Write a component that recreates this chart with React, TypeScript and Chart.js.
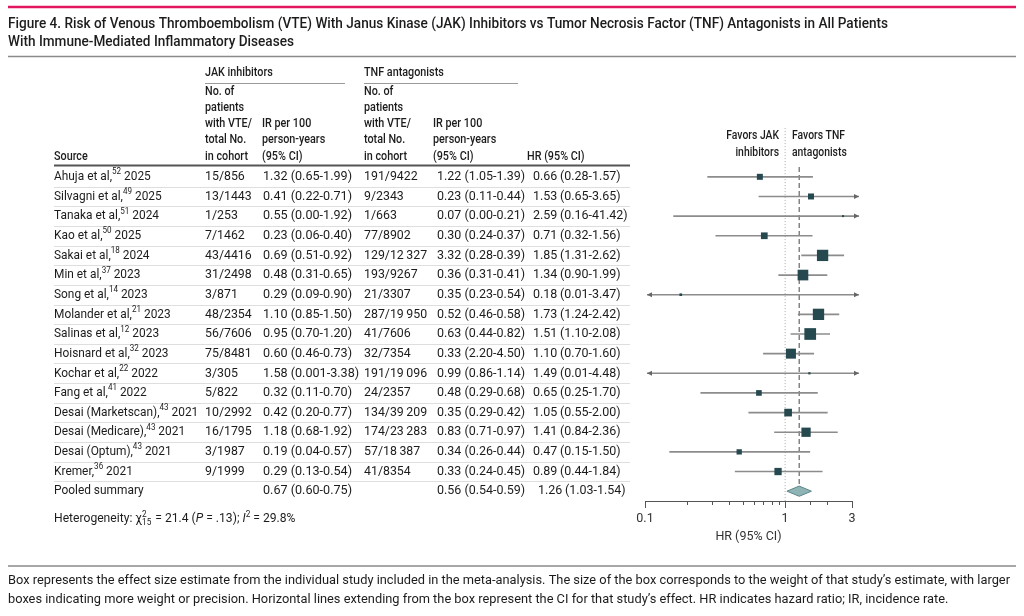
import React, { useEffect, useRef } from 'react';
import { Chart, registerables } from 'chart.js';

Chart.register(...registerables);

// ---------------- DATA ----------------
const studySources = [
  'Ahuja et al,', 'Silvagni et al,', 'Tanaka et al,', 'Kao et al,', 'Sakai et al,', 'Min et al,',
  'Song et al,', 'Molander et al,', 'Salinas et al,', 'Hoisnard et al,', 'Kochar et al,', 'Fang et al,',
  'Desai (Marketscan),', 'Desai (Medicare),', 'Desai (Optum),', 'Kremer,',
];
const studyRefs = ['52', '49', '51', '50', '18', '37', '14', '21', '12', '32', '22', '41', '43', '43', '43', '36'];
const studyYears = ['2025', '2025', '2024', '2025', '2024', '2023', '2023', '2023', '2023', '2023', '2022', '2022', '2021', '2021', '2021', '2021'];
const jakCounts = ['15/856', '13/1443', '1/253', '7/1462', '43/4416', '31/2498', '3/871', '48/2354', '56/7606', '75/8481', '3/305', '5/822', '10/2992', '16/1795', '3/1987', '9/1999'];
const jakIR = [
  '1.32 (0.65-1.99)', '0.41 (0.22-0.71)', '0.55 (0.00-1.92)', '0.23 (0.06-0.40)', '0.69 (0.51-0.92)', '0.48 (0.31-0.65)',
  '0.29 (0.09-0.90)', '1.10 (0.85-1.50)', '0.95 (0.70-1.20)', '0.60 (0.46-0.73)', '1.58 (0.001-3.38)', '0.32 (0.11-0.70)',
  '0.42 (0.20-0.77)', '1.18 (0.68-1.92)', '0.19 (0.04-0.57)', '0.29 (0.13-0.54)',
];
const tnfCounts = [
  '191/9422', '9/2343', '1/663', '77/8902', '129/12\u2009327', '193/9267', '21/3307', '287/19\u2009950', '41/7606', '32/7354',
  '191/19\u2009096', '24/2357', '134/39\u2009209', '174/23\u2009283', '57/18\u2009387', '41/8354',
];
const tnfIR = [
  '1.22 (1.05-1.39)', '0.23 (0.11-0.44)', '0.07 (0.00-0.21)', '0.30 (0.24-0.37)', '3.32 (0.28-0.39)', '0.36 (0.31-0.41)',
  '0.35 (0.23-0.54)', '0.52 (0.46-0.58)', '0.63 (0.44-0.82)', '0.33 (2.20-4.50)', '0.99 (0.86-1.14)', '0.48 (0.29-0.68)',
  '0.35 (0.29-0.42)', '0.83 (0.71-0.97)', '0.34 (0.26-0.44)', '0.33 (0.24-0.45)',
];
const hrPoint = [0.66, 1.53, 2.59, 0.71, 1.85, 1.34, 0.18, 1.73, 1.51, 1.10, 1.49, 0.65, 1.05, 1.41, 0.47, 0.89];
const hrLower = [0.28, 0.65, 0.16, 0.32, 1.31, 0.90, 0.01, 1.24, 1.10, 0.70, 0.01, 0.25, 0.55, 0.84, 0.15, 0.44];
const hrUpper = [1.57, 3.65, 41.42, 1.56, 2.62, 1.99, 3.47, 2.42, 2.08, 1.60, 4.48, 1.70, 2.00, 2.36, 1.50, 1.84];
const studyWeights = [3.6, 3.6, 0.4, 4.5, 12.8, 11.4, 0.7, 12.8, 13.7, 10.0, 0.5, 3.2, 5.9, 8.6, 2.8, 5.3];

const pooledLabel = 'Pooled summary';
const pooledJakIR = '0.67 (0.60-0.75)';
const pooledTnfIR = '0.56 (0.54-0.59)';
const pooledHR = 1.26;
const pooledLower = 1.03;
const pooledUpper = 1.54;

const axisMin = 0.1;
const axisMax = 3;
const axisTickLabels = [0.1, 1, 3];
const axisTitle = 'HR (95% CI)';

const titleLines = [
  'Figure 4. Risk of Venous Thromboembolism (VTE) With Janus Kinase (JAK) Inhibitors vs Tumor Necrosis Factor (TNF) Antagonists in All Patients',
  'With Immune-Mediated Inflammatory Diseases',
];
const footnoteLines = [
  'Box represents the effect size estimate from the individual study included in the meta-analysis. The size of the box corresponds to the weight of that study\u2019s estimate, with larger',
  'boxes indicating more weight or precision. Horizontal lines extending from the box represent the CI for that study\u2019s effect. HR indicates hazard ratio; IR, incidence rate.',
];
const countHeader = ['No. of', 'patients', 'with VTE/', 'total No.', 'in cohort'];
const irHeader = ['IR per 100', 'person-years', '(95% CI)'];

// ---------------- HELPERS ----------------
const SANS = 'Roboto, "Noto Sans", "DejaVu Sans", sans-serif';
const fnt = (size: number, weight = 400, style = 'normal') => `${style} ${weight} ${size}px ${SANS}`;
const TEXT = '#1c1c1c';
const ROW_SIZE = 13;
const NARROW = 0.915;

type Part = { t?: string; sup?: boolean; it?: boolean; supsub?: [string, string] };

function drawRich(ctx: CanvasRenderingContext2D, parts: Part[], x: number, y: number, size: number, sx = 1, weight = 400) {
  ctx.save();
  ctx.translate(x, y);
  ctx.scale(sx, 1);
  let cx = 0;
  ctx.textAlign = 'left';
  ctx.textBaseline = 'middle';
  for (const p of parts) {
    if (p.supsub) {
      ctx.font = fnt(size * 0.68, weight);
      const w1 = ctx.measureText(p.supsub[0]).width;
      const w2 = ctx.measureText(p.supsub[1]).width;
      ctx.fillText(p.supsub[0], cx, -size * 0.36);
      ctx.fillText(p.supsub[1], cx, size * 0.32);
      cx += Math.max(w1, w2) + 1;
      continue;
    }
    const s = p.sup ? size * 0.68 : size;
    ctx.font = fnt(s, weight, p.it ? 'italic' : 'normal');
    const dy = p.sup ? -size * 0.36 : 0;
    ctx.fillText(p.t || '', cx, dy);
    cx += ctx.measureText(p.t || '').width;
  }
  ctx.restore();
}

function text(ctx: CanvasRenderingContext2D, s: string, x: number, y: number, f: string, align: CanvasTextAlign = 'left', sx = 1) {
  ctx.save();
  ctx.font = f;
  ctx.textAlign = align;
  ctx.textBaseline = 'middle';
  ctx.translate(x, y);
  ctx.scale(sx, 1);
  ctx.fillText(s, 0, 0);
  ctx.restore();
}

function hline(ctx: CanvasRenderingContext2D, x1: number, x2: number, y: number, color: string, w = 1) {
  ctx.save();
  ctx.strokeStyle = color;
  ctx.lineWidth = w;
  ctx.beginPath();
  ctx.moveTo(x1, y);
  ctx.lineTo(x2, y);
  ctx.stroke();
  ctx.restore();
}

const isLabelTick = (v: number) => axisTickLabels.some((t) => Math.abs(t - v) < 1e-9);
const boxSide = (w: number) => Math.sqrt(w * 10);
const fmt = (v: number) => v.toFixed(2);

const forestPlugin = {
  id: 'forestTable',
  beforeDraw(chart: any) {
    const ctx = chart.ctx as CanvasRenderingContext2D;
    ctx.save();
    ctx.fillStyle = '#fff';
    ctx.fillRect(0, 0, chart.width, chart.height);
    ctx.restore();
  },
  afterDraw(chart: any) {
    const ctx = chart.ctx as CanvasRenderingContext2D;
    const xs = chart.scales.x;
    const ys = chart.scales.y;
    ctx.save();
    ctx.fillStyle = TEXT;

    // title block
    hline(ctx, 8, 1016, 7, '#e2165e', 2.5);
    const tf = fnt(15.5, 500);
    ctx.font = tf;
    const tsx = 880 / ctx.measureText(titleLines[0]).width;
    text(ctx, titleLines[0], 8, 24, tf, 'left', tsx);
    text(ctx, titleLines[1], 8, 42, tf, 'left', tsx);
    hline(ctx, 8, 1016, 56.5, '#8a8a8a', 1.5);

    // footnote
    hline(ctx, 8, 1016, 566, '#8a8a8a', 1.5);
    const ff = fnt(13, 400);
    ctx.font = ff;
    const fsx = 1002 / ctx.measureText(footnoteLines[0]).width;
    text(ctx, footnoteLines[0], 8, 581, ff, 'left', fsx);
    text(ctx, footnoteLines[1], 8, 600, ff, 'left', fsx);

    // table header
    const hf = fnt(13, 500);
    const hs = 0.83;
    text(ctx, 'JAK inhibitors', 205, 73, hf, 'left', hs);
    hline(ctx, 205, 345, 83.5, '#9a9a9a', 1);
    text(ctx, 'TNF antagonists', 364, 73, hf, 'left', hs);
    hline(ctx, 364, 518, 83.5, '#9a9a9a', 1);
    const hy = [92, 108, 124, 140, 157];
    countHeader.forEach((s, k) => {
      text(ctx, s, 205, hy[k], hf, 'left', hs);
      text(ctx, s, 364, hy[k], hf, 'left', hs);
    });
    irHeader.forEach((s, k) => {
      text(ctx, s, 262, hy[k + 2], hf, 'left', hs);
      text(ctx, s, 433, hy[k + 2], hf, 'left', hs);
    });
    text(ctx, 'Source', 54, 157, hf, 'left', hs);
    text(ctx, 'HR (95% CI)', 527, 157, hf, 'left', hs);
    hline(ctx, 54, 630, 165.5, '#555', 2);

    // rows
    const rf = fnt(ROW_SIZE, 400);
    const n = studySources.length;
    for (let i = 0; i < n; i++) {
      const y = ys.getPixelForValue(i);
      ctx.fillStyle = TEXT;
      drawRich(ctx, [{ t: studySources[i] }, { t: studyRefs[i], sup: true }, { t: ' ' + studyYears[i] }], 54, y, ROW_SIZE, NARROW);
      text(ctx, jakCounts[i], 205, y, rf, 'left', 0.95);
      text(ctx, jakIR[i], 263, y, rf, 'left', 0.97);
      text(ctx, tnfCounts[i], 364, y, rf, 'left', 0.95);
      text(ctx, tnfIR[i], 437, y, rf, 'left', 0.96);
      text(ctx, `${fmt(hrPoint[i])}\u2009(${fmt(hrLower[i])}-${fmt(hrUpper[i])})`, 533, y, rf, 'left', 0.96);
      hline(ctx, 54, 630, Math.round(ys.getPixelForValue(i + 0.5)) + 0.5, '#dedede', 1);
    }
    const py = ys.getPixelForValue(n);
    ctx.fillStyle = TEXT;
    text(ctx, pooledLabel, 54, py, rf, 'left', NARROW);
    text(ctx, pooledJakIR, 263, py, rf, 'left', 0.97);
    text(ctx, pooledTnfIR, 437, py, rf, 'left', 0.96);
    text(ctx, `${fmt(pooledHR)}\u2009(${fmt(pooledLower)}-${fmt(pooledUpper)})`, 538, py, rf, 'left', 0.96);

    drawRich(
      ctx,
      [
        { t: 'Heterogeneity: \u03C7' },
        { supsub: ['2', '15'] },
        { t: ' = 21.4 (' },
        { t: 'P', it: true },
        { t: ' = .13); ' },
        { t: 'I', it: true },
        { t: '2', sup: true },
        { t: ' = 29.8%' },
      ],
      54,
      519,
      12.5,
      0.97
    );

    // favors labels
    const bf = fnt(12.5, 500);
    text(ctx, 'Favors JAK', 779, 136, bf, 'right', 0.83);
    text(ctx, 'inhibitors', 779, 153, bf, 'right', 0.83);
    text(ctx, 'Favors TNF', 792, 136, bf, 'left', 0.83);
    text(ctx, 'antagonists', 792, 153, bf, 'left', 0.83);

    // arrows for CIs beyond the axis range
    ctx.fillStyle = '#666';
    for (let i = 0; i < n; i++) {
      const y = ys.getPixelForValue(i);
      if (hrLower[i] < axisMin) {
        const tip = xs.left + 2;
        ctx.beginPath();
        ctx.moveTo(tip, y);
        ctx.lineTo(tip + 5, y - 2.5);
        ctx.lineTo(tip + 5, y + 2.5);
        ctx.closePath();
        ctx.fill();
      }
      if (hrUpper[i] > axisMax) {
        const tip = xs.right + 7;
        ctx.beginPath();
        ctx.moveTo(tip, y);
        ctx.lineTo(tip - 5, y - 2.5);
        ctx.lineTo(tip - 5, y + 2.5);
        ctx.closePath();
        ctx.fill();
      }
    }

    // minor ticks
    ctx.strokeStyle = '#555';
    ctx.lineWidth = 1;
    for (const t of xs.ticks) {
      if (isLabelTick(t.value)) continue;
      const x = Math.round(xs.getPixelForValue(t.value)) + 0.5;
      ctx.beginPath();
      ctx.moveTo(x, xs.top);
      ctx.lineTo(x, xs.top + 4);
      ctx.stroke();
    }
    ctx.restore();
  },
};

export default function App() {
  const ref = useRef<HTMLCanvasElement | null>(null);

  useEffect(() => {
    if (!ref.current) return;
    const n = studySources.length;
    const diamondHalf = 0.26;
    const chart = new Chart(ref.current, {
      type: 'scatter',
      data: {
        datasets: [
          {
            type: 'scatter',
            label: 'HR',
            data: hrPoint.map((v, i) => ({ x: v, y: i })),
            pointStyle: 'rect',
            pointRadius: (c: any) => boxSide(studyWeights[c.dataIndex] ?? 1) / Math.SQRT2,
            backgroundColor: '#25494e',
            borderWidth: 0,
            order: 0,
          } as any,
          {
            type: 'scatter',
            label: 'Pooled',
            data: [
              { x: pooledLower, y: n },
              { x: pooledHR, y: n - diamondHalf },
              { x: pooledUpper, y: n },
              { x: pooledHR, y: n + diamondHalf },
              { x: pooledLower, y: n },
            ],
            showLine: true,
            fill: 'shape',
            tension: 0,
            backgroundColor: '#8fb4b5',
            borderColor: '#5f8689',
            borderWidth: 1,
            pointRadius: 0,
            order: 1,
          } as any,
          {
            type: 'bar',
            label: 'CI',
            indexAxis: 'y',
            data: hrLower.map((lo, i) => ({ x: [lo, hrUpper[i]], y: i })),
            barThickness: 1,
            backgroundColor: '#8c8c8c',
            borderWidth: 0,
            clip: { left: -2, right: 7, top: false, bottom: false },
            order: 2,
          } as any,
          {
            type: 'scatter',
            label: 'pooled ref',
            data: [
              { x: pooledHR, y: -0.5 },
              { x: pooledHR, y: n - diamondHalf },
            ],
            showLine: true,
            borderDash: [5, 3],
            borderColor: '#666',
            borderWidth: 1.2,
            pointRadius: 0,
            order: 3,
          } as any,
          {
            type: 'scatter',
            label: 'null',
            data: [
              { x: 1, y: -2.48 },
              { x: 1, y: n + 0.5 },
            ],
            showLine: true,
            borderDash: [1, 2],
            borderColor: '#aaa',
            borderWidth: 1,
            pointRadius: 0,
            clip: false,
            order: 4,
          } as any,
        ],
      },
      options: {
        animation: false,
        responsive: false,
        events: [],
        layout: { padding: { left: 645, right: 172, top: 167, bottom: 71.5 } },
        plugins: { legend: { display: false }, tooltip: { enabled: false }, title: { display: false } },
        scales: {
          x: {
            type: 'logarithmic',
            min: axisMin,
            max: axisMax,
            offset: false,
            position: 'bottom',
            grid: {
              display: true,
              drawOnChartArea: false,
              drawTicks: true,
              tickLength: 7,
              offset: false,
              tickColor: (c: any) => (c.tick && isLabelTick(c.tick.value) ? '#555' : 'rgba(0,0,0,0)'),
            },
            border: { display: true, color: '#555', width: 1 },
            ticks: {
              autoSkip: false,
              maxRotation: 0,
              padding: 3,
              color: '#333',
              font: { family: SANS, size: 12.5 },
              callback: (v: any) => (isLabelTick(Number(v)) ? String(v) : ''),
            },
            title: {
              display: true,
              text: axisTitle,
              color: '#333',
              font: { family: SANS, size: 12.5 },
              padding: { top: 0, bottom: 0 },
            },
            afterFit: (s: any) => {
              s.height = 43.5;
            },
          } as any,
          y: {
            type: 'linear',
            display: false,
            min: -0.5,
            max: n + 0.5,
            reverse: true,
            offset: false,
          } as any,
        },
      } as any,
      plugins: [forestPlugin as any],
    });
    return () => chart.destroy();
  }, []);

  return (
    <div style={{ position: 'fixed', left: 0, top: 0, width: 1024, height: 616, background: '#fff' }}>
      <canvas ref={ref} width={1024} height={616} style={{ display: 'block', width: 1024, height: 616 }} />
    </div>
  );
}
